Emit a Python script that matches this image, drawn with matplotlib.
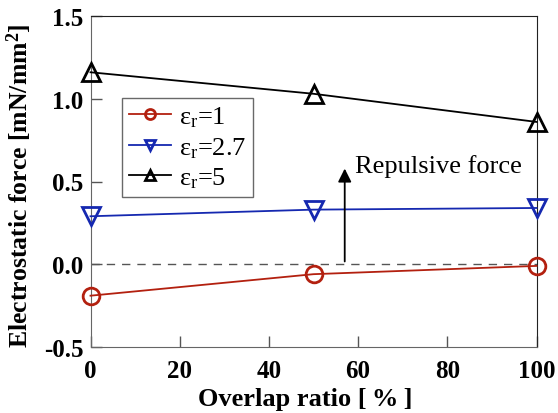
import matplotlib
matplotlib.use("Agg")
import matplotlib.pyplot as plt

overlap = [0, 50, 100]
force_er1 = [-0.19, -0.06, -0.01]
force_er27 = [0.29, 0.33, 0.34]
force_er5 = [1.16, 1.03, 0.86]
labels = [r"$\mathregular{\varepsilon_r}$=1", r"$\mathregular{\varepsilon_r}$=2.7", r"$\mathregular{\varepsilon_r}$=5"]
xticks = [0, 20, 40, 60, 80, 100]
yticks = [-0.5, 0.0, 0.5, 1.0, 1.5]

plt.rcParams['font.family'] = ['Liberation Serif', 'DejaVu Serif']
plt.rcParams['mathtext.fontset'] = 'custom'
plt.rcParams['mathtext.rm'] = 'Liberation Serif'
plt.rcParams['mathtext.it'] = 'Liberation Serif:italic'
plt.rcParams['mathtext.bf'] = 'Liberation Serif:bold'

fig = plt.figure(figsize=(5.58, 4.14), dpi=100)
ax = fig.add_axes([90.5/558, 1-348/414, 446/558, 331/414])

ax.axhline(0, color='#555555', ls=(0, (6, 5)), lw=1.0, zorder=1)
ax.plot(overlap, force_er1, color='#b3200f', marker='o', ms=12, mfc='none', mew=2, lw=1.3, label=labels[0], clip_on=False, zorder=3)
ax.plot(overlap, force_er27, color='#1528b0', marker='v', ms=13, mfc='none', mew=2, lw=1.3, label=labels[1], clip_on=False, zorder=3)
ax.plot(overlap, force_er5, color='black', marker='^', ms=13, mfc='none', mew=2, lw=1.3, label=labels[2], clip_on=False, zorder=3)

ax.annotate('', xy=(57, 0.595), xytext=(57, 0.0),
            arrowprops=dict(arrowstyle='-|>', color='black', lw=1.3, mutation_scale=20))
ax.text(59.2, 0.56, 'Repulsive force', fontsize=19, va='baseline', ha='left')

ax.set_xlim(0, 100)
ax.set_ylim(-0.5, 1.5)
ax.set_xticks(xticks)
ax.set_yticks(yticks)
ax.set_yticklabels([f"{v:.1f}" for v in yticks])
ax.tick_params(direction='in', length=8, width=1, colors='#555555', labelcolor='black',
               labelsize=18, top=False, right=False)
ax.tick_params(axis='x', pad=9)
ax.tick_params(axis='y', pad=5)
for lab in ax.get_xticklabels() + ax.get_yticklabels():
    lab.set_fontweight('bold')
for s in ['left', 'bottom']:
    ax.spines[s].set_color('#666666')
for s in ['top', 'right']:
    ax.spines[s].set_color('#222222')

ax.set_xlabel('Overlap ratio [\u2009%\u2009]', fontsize=19, fontweight='bold')
ax.xaxis.set_label_coords(0.482, -0.122)
ax.set_ylabel(r'Electrostatic force [mN/mm$\mathbf{^2}$]', fontsize=18.5, fontweight='bold')
ax.yaxis.set_label_coords(-0.126, 0.49)

leg = ax.legend(loc='upper left', bbox_to_anchor=(0.0706, 0.752), fontsize=19, frameon=True,
                fancybox=False, edgecolor='#444444', handlelength=1.6, borderpad=0.25,
                labelspacing=0.22, handletextpad=0.3, borderaxespad=0, markerscale=0.6)
leg.get_frame().set_linewidth(1.0)

fig.savefig('out.png', dpi=100)
